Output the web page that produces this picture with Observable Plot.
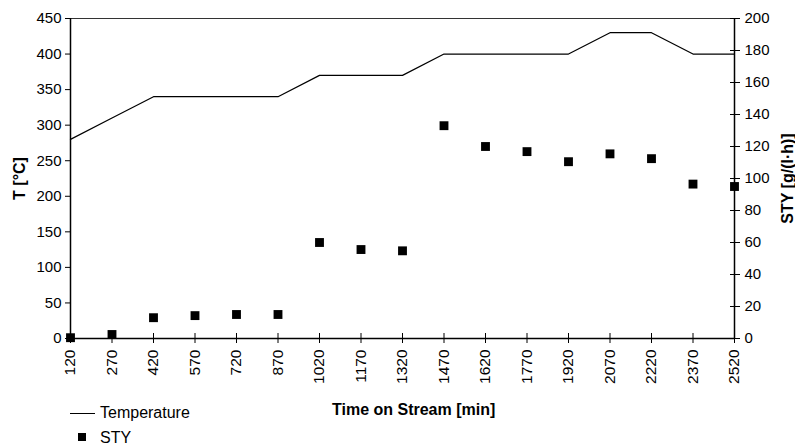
<!DOCTYPE html>
<html><head><meta charset="utf-8">
<script src="https://cdn.jsdelivr.net/npm/d3@7"></script>
<script src="https://cdn.jsdelivr.net/npm/@observablehq/plot@0.6"></script>
<style>
body{margin:0;background:#fff;font-family:"Liberation Sans",Arial,sans-serif}
#wrap{position:relative;width:795px;height:445px;overflow:hidden}
#wrap svg [aria-label="y-axis label"] text, #wrap svg [aria-label="y-axis label"]{font-weight:bold;font-size:16px}
.ov{position:absolute;white-space:nowrap;color:#000;line-height:1}
#xtitle{left:332px;top:402px;font-weight:bold;font-size:16px}
#leg1{left:100px;top:405px;font-size:16px}
#leg2{left:100px;top:430px;font-size:16px}
#legline{position:absolute;left:70px;top:413px;width:25px;height:0;border-top:1.3px solid #000}
#legsq{position:absolute;left:78px;top:433px;width:8px;height:8px;background:#000}
</style></head><body>
<div id="wrap">
<div id="xtitle" class="ov">Time on Stream [min]</div>
<div id="legline"></div><div id="leg1" class="ov">Temperature</div>
<div id="legsq"></div><div id="leg2" class="ov">STY</div>
</div>
<script>
const times = [120,270,420,570,720,870,1020,1170,1320,1470,1620,1770,1920,2070,2220,2370,2520];
const temperature = [280,310,340,340,340,340,370,370,370,400,400,400,400,430,430,400,400];
const sty = [0.5,2.5,13,14.3,15,15,60,55.6,54.8,133,120,116.8,110.5,115.4,112.4,96.5,95];
const tempTicks = [0,50,100,150,200,250,300,350,400,450];
const styTicks = [0,20,40,60,80,100,120,140,160,180,200];
const T_MAX = 450, STY_MAX = 200;
const k = T_MAX / STY_MAX;
const rows = times.map((t, i) => ({time: t, temp: temperature[i], sty: sty[i]}));

const chart = Plot.plot({
  width: 795, height: 445,
  marginTop: 18, marginBottom: 107, marginLeft: 70, marginRight: 61,
  style: {fontFamily: '"Liberation Sans", Arial, sans-serif', fontSize: "15px", color: "#000", background: "transparent"},
  x: {domain: [times[0], times[times.length - 1]]},
  y: {domain: [0, T_MAX]},
  marks: [
    Plot.frame({stroke: "#333"}),
    Plot.axisX(times, {tickSize: 5, tickRotate: -90, tickPadding: 6, tickFormat: d => String(d), label: null, fontSize: 15.5}),
    Plot.axisX(times, {tickSize: -5, fill: "none", label: null}),
    Plot.axisY(tempTicks, {anchor: "left", tickSize: 5, tickPadding: 4, label: "T [°C]", labelAnchor: "center", labelArrow: "none", labelOffset: 57}),
    Plot.axisY(styTicks.map(v => v * k), {anchor: "right", tickSize: 5, tickPadding: 5, tickFormat: d => String(Math.round(d / k)), label: "STY [g/(l·h)]", labelAnchor: "center", labelArrow: "none", labelOffset: 58}),
    Plot.axisY(styTicks.map(v => v * k), {anchor: "right", tickSize: -5, fill: "none", label: null}),
    Plot.ruleX([times[0], times[times.length - 1]], {stroke: "#000", strokeWidth: 1.5}),
    Plot.ruleY([0], {stroke: "#000", strokeWidth: 1.5}),
    Plot.line(rows, {x: "time", y: "temp", stroke: "#000", strokeWidth: 1.2}),
    Plot.dot(rows, {x: "time", y: d => d.sty * k, symbol: "square", r: 5, fill: "#000", stroke: "none"})
  ]
});
document.getElementById("wrap").prepend(chart);
</script>
</body></html>
